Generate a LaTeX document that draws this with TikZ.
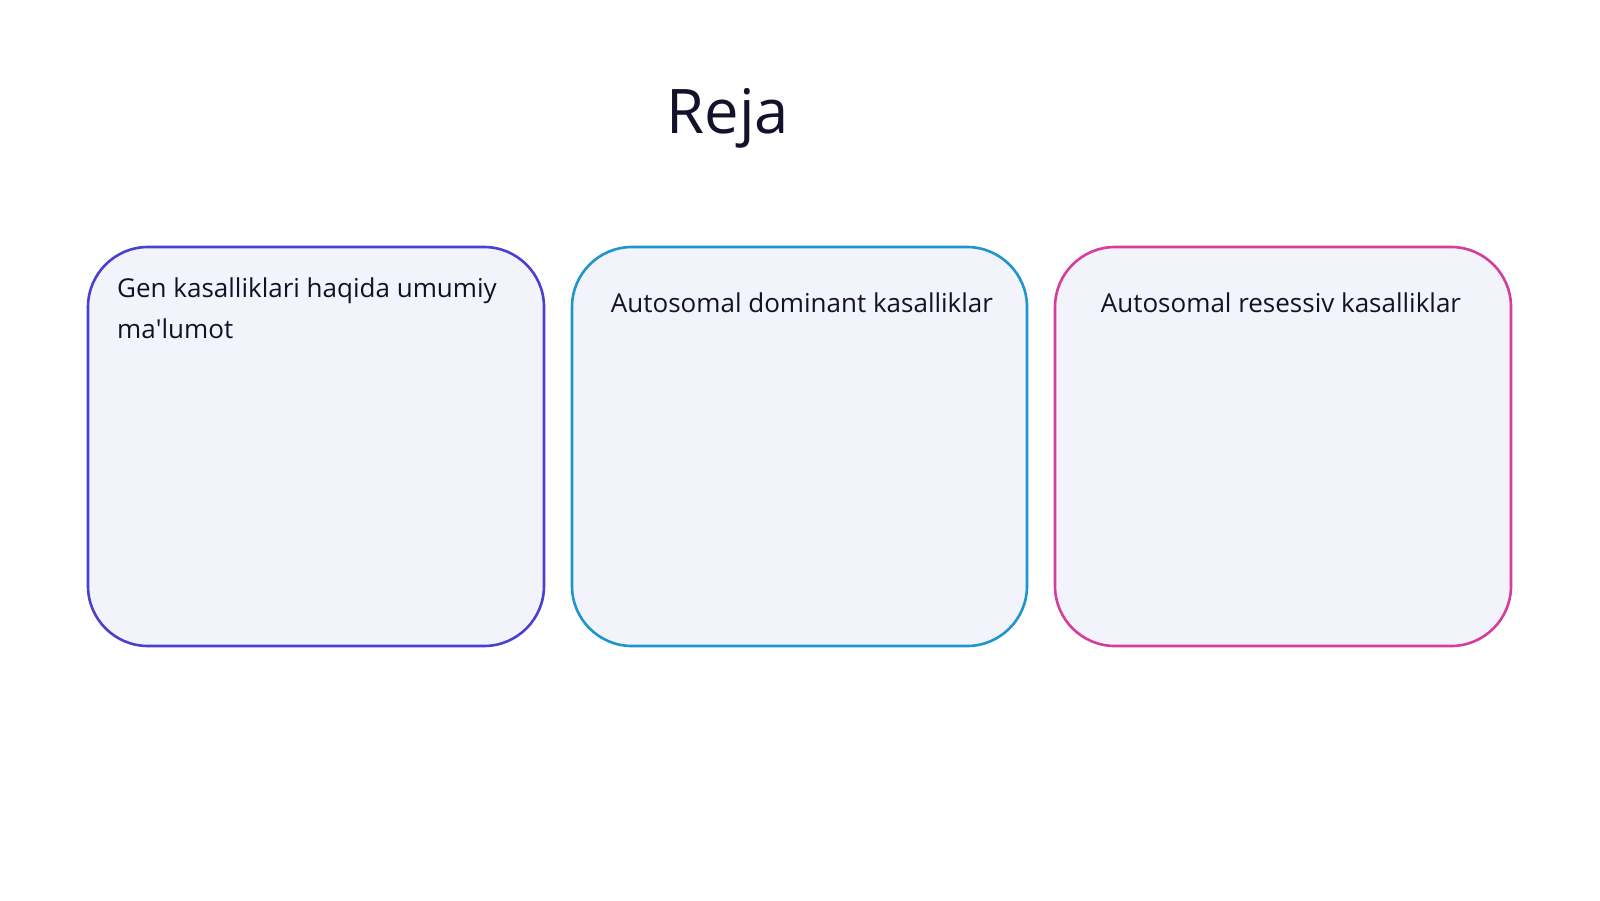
\documentclass[tikz,border=0pt]{standalone}
\usepackage{fontspec}
\setmainfont{Open Sans}
\definecolor{titlecol}{HTML}{12122A}
\definecolor{txtcol}{HTML}{121226}
\definecolor{boxfill}{HTML}{F3F3FC}
\definecolor{bordA}{HTML}{4B3FD0}
\definecolor{bordB}{HTML}{1E96CC}
\definecolor{bordC}{HTML}{D63C9A}
\tikzset{
  card/.style={line width=2.6pt, fill=boxfill, rounded corners=60pt},
  cardtext/.style={inner sep=0pt, text=txtcol, font=\fontsize{26}{41}\selectfont},
}
\begin{document}
\begin{tikzpicture}[x=1pt,y=-1pt]
\path[fill=white] (0,0) rectangle (1600,900);
\useasboundingbox (0,0) rectangle (1600,900);
\node[anchor=base, inner sep=0pt, text=titlecol, font=\fontsize{61.5}{64}\selectfont] (title) at (728,133) {Reja};
\draw[card, draw=bordA] (88,247) rectangle (544,646);
\draw[card, draw=bordB] (572,247) rectangle (1027,646);
\draw[card, draw=bordC] (1055,247) rectangle (1511,646);
\node[cardtext, anchor=base west] (t1) at (117,297) {Gen kasalliklari haqida umumiy};
\node[cardtext, anchor=base west] (t1b) at (117,338) {ma\textquotesingle lumot};
\node[cardtext, anchor=base] (t2) at (802,312) {Autosomal dominant kasalliklar};
\node[cardtext, anchor=base] (t3) at (1281,312) {Autosomal resessiv kasalliklar};
\end{tikzpicture}
\end{document}
